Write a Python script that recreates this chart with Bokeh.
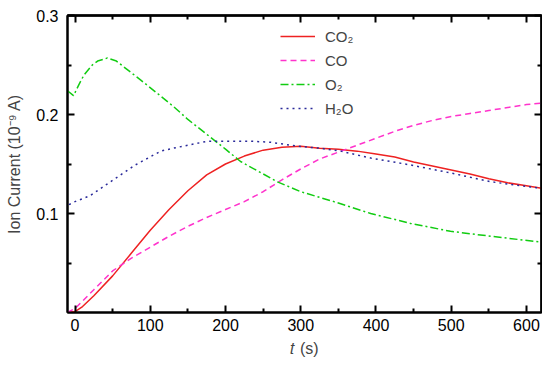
from bokeh.plotting import figure
from bokeh.models import Range1d, LinearAxis, FixedTicker, Legend, LegendItem
from bokeh.embed import file_html
from bokeh.resources import INLINE

# ---- data ----
t_co2 = [-10, 0, 10, 25, 50, 75, 100, 125, 150, 175, 200, 225, 250, 275, 300,
         325, 350, 375, 400, 425, 450, 475, 500, 525, 550, 575, 600, 620]
co2 = [0.0, 0.001, 0.006, 0.017, 0.037, 0.060, 0.083, 0.104, 0.123, 0.139, 0.150,
       0.158, 0.164, 0.167, 0.168, 0.166, 0.165, 0.163, 0.160, 0.157, 0.152,
       0.148, 0.144, 0.140, 0.135, 0.131, 0.128, 0.1255]

t_co = [-10, 0, 25, 50, 75, 100, 125, 150, 175, 200, 225, 250, 275, 300, 325,
        350, 375, 400, 425, 450, 475, 500, 525, 550, 575, 600, 620]
co = [0.0, 0.004, 0.023, 0.042, 0.055, 0.066, 0.077, 0.087, 0.096, 0.104, 0.112,
      0.122, 0.134, 0.145, 0.155, 0.162, 0.169, 0.176, 0.183, 0.189, 0.194,
      0.198, 0.201, 0.204, 0.207, 0.210, 0.2115]

t_o2 = [-10, -2, 5, 12, 23, 30, 43, 55, 65, 87, 110, 131, 150, 176, 200, 220,
        250, 269, 300, 344, 393, 446, 499, 553, 620]
o2 = [0.224, 0.219, 0.230, 0.240, 0.250, 0.254, 0.257, 0.254, 0.248, 0.235,
      0.221, 0.208, 0.195, 0.1795, 0.165, 0.1525, 0.140, 0.132, 0.122, 0.112,
      0.100, 0.090, 0.082, 0.077, 0.071]

t_h2o = [-8, 0, 10, 20, 47, 80, 114, 131, 150, 176, 200, 233, 260, 295, 325,
         353, 393, 446, 499, 553, 620]
h2o = [0.109, 0.112, 0.115, 0.118, 0.132, 0.149, 0.163, 0.166, 0.169, 0.173,
       0.173, 0.173, 0.172, 0.168, 0.166, 0.163, 0.156, 0.149, 0.141, 0.132, 0.1255]

x_major = [0, 100, 200, 300, 400, 500, 600]
x_minor = [50, 150, 250, 350, 450, 550]
y_major = [0.1, 0.2, 0.3]
y_minor = [0.05, 0.15, 0.25]

FONT = "Liberation Sans"

p = figure(width=542, height=364, output_backend="svg",
           toolbar_location=None, x_range=Range1d(-10, 620), y_range=Range1d(0, 0.3),
           min_border_left=67, min_border_right=1, min_border_top=15, min_border_bottom=52,
           background_fill_color="white", border_fill_color="white")
p.grid.visible = False
p.outline_line_color = "black"
p.outline_line_width = 2

bottom = p.below[0]
left = p.left[0]

for ax, maj, mnr in [(bottom, x_major, x_minor), (left, y_major, y_minor)]:
    ax.ticker = FixedTicker(ticks=maj, minor_ticks=mnr)
    ax.axis_line_width = 2
    ax.major_tick_in = 7
    ax.major_tick_out = 0
    ax.minor_tick_in = 4
    ax.minor_tick_out = 0
    ax.major_tick_line_width = 2
    ax.minor_tick_line_width = 2
    ax.major_label_text_font = FONT
    ax.major_label_text_font_size = "16px"
    ax.major_label_text_color = "black"

bottom.major_label_standoff = 6
left.major_label_standoff = 9

# mirrored tick marks on the top and right edges (no labels)
for side, ticks_list in [("above", (x_major, x_minor)), ("right", (y_major, y_minor))]:
    for ticks, length in zip(ticks_list, (7, 4)):
        ax = LinearAxis(ticker=FixedTicker(ticks=[], minor_ticks=ticks))
        ax.axis_line_width = 2
        ax.minor_tick_in = length
        ax.minor_tick_out = 0
        ax.minor_tick_line_width = 2
        ax.major_label_standoff = 0
        p.add_layout(ax, side)

left.axis_label = "Ion Current (10\u207b\u2079 A)"
left.axis_label_text_font = FONT
left.axis_label_text_font_size = "16px"
left.axis_label_text_font_style = "normal"
left.axis_label_standoff = 10

bottom.axis_label = "\U0001D461 (s)"
bottom.axis_label_text_font = FONT
bottom.axis_label_text_font_size = "16px"
bottom.axis_label_text_font_style = "normal"
bottom.axis_label_standoff = 6

r1 = p.line(t_co2, co2, line_color="#ee2222", line_width=1.5)
r2 = p.line(t_co, co, line_color="#ff33cc", line_width=1.5, line_dash="6 4")
r3 = p.line(t_o2, o2, line_color="#11cc11", line_width=1.5, line_dash="8 3 2 3")
r4 = p.line(t_h2o, h2o, line_color="#2a2a9a", line_width=1.5, line_dash="2 4")

legend = Legend(items=[LegendItem(label="CO\u2082", renderers=[r1]),
                       LegendItem(label="CO", renderers=[r2]),
                       LegendItem(label="O\u2082", renderers=[r3]),
                       LegendItem(label="H\u2082O", renderers=[r4])],
                location=(213, 194), glyph_width=35, glyph_height=20,
                label_height=20, spacing=4, padding=0, margin=0,
                border_line_color=None, background_fill_alpha=0,
                label_text_font=FONT, label_text_font_size="15px",
                label_standoff=10)
p.add_layout(legend)

open("out.html", "w").write(file_html(p, INLINE))
